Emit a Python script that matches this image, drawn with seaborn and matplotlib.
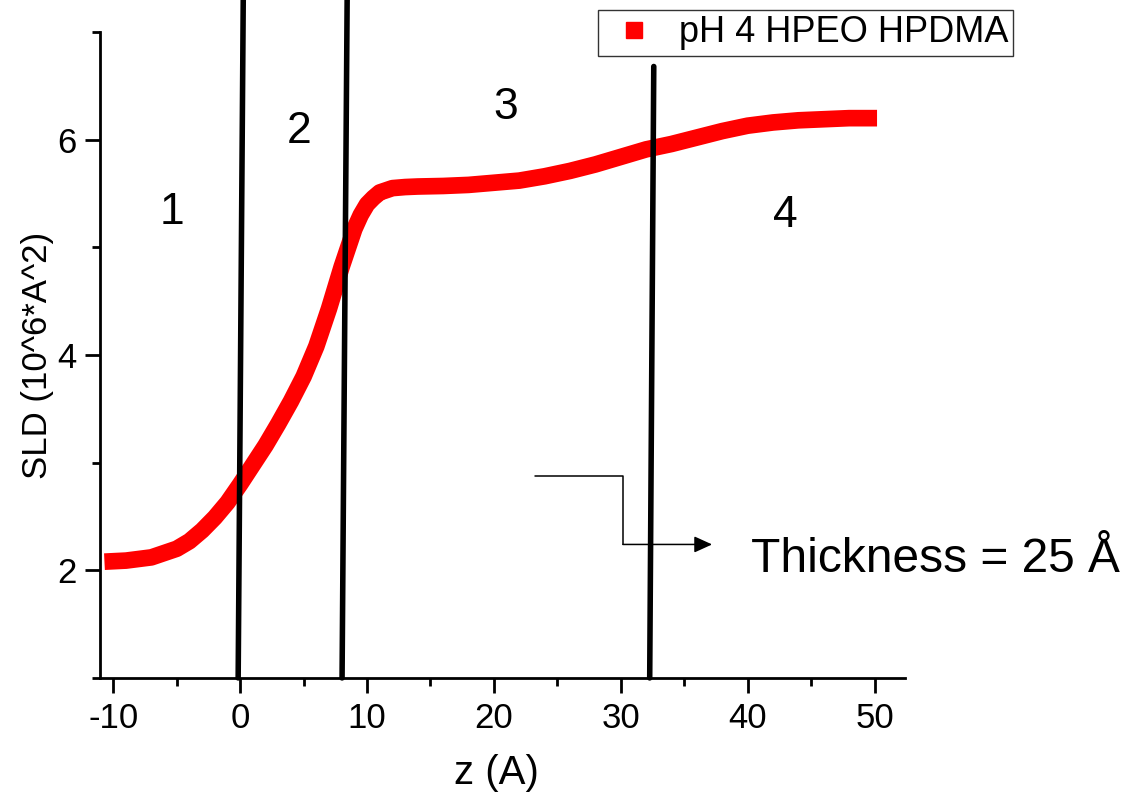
import matplotlib
matplotlib.use("Agg")
import matplotlib.pyplot as plt
from matplotlib.lines import Line2D
from matplotlib.ticker import MultipleLocator
import seaborn as sns
import pandas as pd

# SLD profile
z = [-10.7, -9, -7, -5, -4, -3, -2, -1, 0, 1, 2, 3, 4, 5, 6, 7, 8, 9, 9.5,
     10, 10.5, 11, 11.5, 12, 13, 14, 16, 18, 20, 22, 24, 26, 28, 30, 32,
     34, 36, 38, 40, 42, 44, 46, 48, 50.2]
sld = [2.08, 2.09, 2.12, 2.20, 2.27, 2.37, 2.49, 2.63, 2.80, 2.98, 3.16,
       3.36, 3.57, 3.80, 4.08, 4.43, 4.82, 5.17, 5.30, 5.40, 5.46, 5.51,
       5.53, 5.55, 5.56, 5.565, 5.57, 5.58, 5.60, 5.62, 5.66, 5.71, 5.77,
       5.84, 5.91, 5.96, 6.02, 6.08, 6.13, 6.16, 6.18, 6.19, 6.20, 6.20]
series_name = "pH 4 HPEO HPDMA"

# region dividers (slightly tilted lines), bottom -> top
divider_x = [(-0.16, 0.24), (8.03, 8.43), (32.28, 32.6)]
divider_y = [(1.0, 7.3), (1.0, 7.3), (1.0, 6.68)]

region_labels = ["1", "2", "3", "4"]
region_x = [-5.4, 4.65, 20.9, 43.0]
region_y = [5.32, 6.08, 6.30, 5.30]

# elbow arrow pointing to the annotation
arrow_x = [23.2, 30.16, 30.16, 37.2]
arrow_y = [2.88, 2.88, 2.24, 2.24]

df = pd.DataFrame({"z": z, "sld": sld})

sns.set_style("ticks")
plt.rcParams["font.family"] = ["Liberation Sans", "DejaVu Sans"]
plt.rcParams["axes.unicode_minus"] = False
plt.rcParams["text.color"] = "black"
plt.rcParams["axes.labelcolor"] = "black"
plt.rcParams["xtick.color"] = "black"
plt.rcParams["ytick.color"] = "black"
plt.rcParams["axes.edgecolor"] = "black"

fig = plt.figure(figsize=(11.25, 7.97), dpi=100)
ax = fig.add_axes([0.0889, 0.1494, 0.7155, 0.8104])

sns.lineplot(data=df, x="z", y="sld", color="#ff0000", linewidth=12,
             solid_capstyle="butt", ax=ax, zorder=2)

for xs, ys in zip(divider_x, divider_y):
    ax.plot(xs, ys, color="black", linewidth=4, clip_on=False, zorder=3)

for lab, tx, ty in zip(region_labels, region_x, region_y):
    ax.text(tx, ty, lab, fontsize=32, ha="center", va="center")

ax.plot(arrow_x[:-1], arrow_y[:-1], color="black", linewidth=1.1)
ax.annotate("", xy=(arrow_x[-1], arrow_y[-1]),
            xytext=(arrow_x[-2], arrow_y[-2]),
            arrowprops=dict(arrowstyle="-|>,head_length=1.1,head_width=0.5",
                            color="black", lw=1.1, shrinkA=0, shrinkB=0))
ax.text(40.3, 2.10, "Thickness = 25 \u00c5", fontsize=34.5, ha="left",
        va="center", clip_on=False)

ax.set_xlim(-11.05, 52.4)
ax.set_ylim(1, 7)
ax.xaxis.set_major_locator(MultipleLocator(10))
ax.xaxis.set_minor_locator(MultipleLocator(5))
ax.yaxis.set_minor_locator(MultipleLocator(1))
ax.set_yticks([2, 4, 6])
ax.tick_params(which="major", length=11, width=2, labelsize=25, pad=6)
ax.tick_params(which="minor", length=6, width=2)
for side in ["left", "bottom"]:
    ax.spines[side].set_linewidth(2)
sns.despine(ax=ax)

ax.set_xlabel("z (A)", fontsize=29, labelpad=14)
ax.xaxis.label.set_x(0.4925)
ax.set_ylabel("SLD (10^6*A^2)", fontsize=25, labelpad=2)

handle = Line2D([], [], marker="s", color="#ff0000", linestyle="none",
                markersize=11)
leg = fig.legend([handle], [series_name], loc="upper left",
                 bbox_to_anchor=(598 / 1125, 1 - 10 / 797), fontsize=26,
                 frameon=True, fancybox=False, edgecolor="black",
                 borderpad=0.15, handlelength=1.7, handletextpad=0.38,
                 borderaxespad=0)
leg.get_frame().set_linewidth(1)

fig.savefig("out.png", dpi=100)
